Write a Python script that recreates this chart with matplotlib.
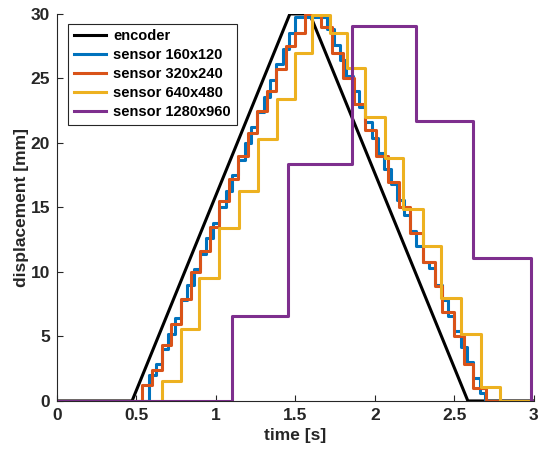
import numpy as np
import matplotlib.pyplot as plt

plt.rcParams['font.family'] = ['Liberation Sans', 'DejaVu Sans']
plt.rcParams['font.weight'] = 'bold'

# encoder (reference)
enc_t = [0, 0.472, 1.465, 1.59, 2.585, 3.0]
enc_d = [0, 0, 30, 30, 0, 0]

# sensor 160x120 - step start times and held values
blue_t = [0, 0.58, 0.62, 0.66, 0.70, 0.74, 0.78, 0.82, 0.86, 0.90, 0.94, 0.98, 1.02,
          1.06, 1.10, 1.14, 1.18, 1.22, 1.26, 1.30, 1.34, 1.38, 1.42, 1.46, 1.50,
          1.70, 1.74, 1.78, 1.82, 1.86, 1.90, 1.94, 1.98, 2.02, 2.06, 2.10, 2.14,
          2.18, 2.22, 2.26, 2.30, 2.34, 2.38, 2.42, 2.46, 2.50, 2.54, 2.58, 2.62,
          2.66, 2.69]
blue_d = [0, 2.0, 2.9, 4.0, 5.2, 6.4, 7.8, 9.0, 10.2, 11.4, 12.6, 13.8, 15.0,
          16.3, 17.5, 18.7, 20.0, 21.2, 22.4, 23.6, 24.9, 26.1, 27.3, 28.5, 29.8,
          28.8, 27.6, 26.4, 25.2, 24.0, 22.8, 21.6, 20.4, 19.2, 18.0, 16.8, 15.6,
          14.4, 13.2, 12.0, 10.8, 10.3, 9.0, 7.8, 6.6, 5.4, 4.2, 3.0, 1.8,
          0.6, 0]

# sensor 320x240
red_t = [0, 0.537, 0.60, 0.66, 0.72, 0.78, 0.84, 0.90, 0.96, 1.02, 1.08, 1.14, 1.20,
         1.26, 1.32, 1.38, 1.44, 1.50, 1.56, 1.66, 1.73, 1.80, 1.87, 1.94, 2.01,
         2.08, 2.15, 2.22, 2.30, 2.38, 2.42, 2.50, 2.56, 2.62, 2.70]
red_d = [0, 1.2, 2.4, 4.3, 6.0, 7.9, 10.0, 11.6, 13.5, 15.5, 17.2, 19.0, 20.8,
         22.5, 24.0, 25.7, 27.5, 28.5, 30.0, 29.0, 27.0, 25.0, 23.0, 21.0, 19.0,
         17.0, 15.0, 13.0, 10.8, 8.9, 6.9, 5.0, 2.9, 1.0, 0]

# sensor 640x480
yel_t = [0, 0.659, 0.780, 0.895, 1.019, 1.145, 1.264, 1.384, 1.497, 1.604, 1.717,
         1.824, 1.937, 2.063, 2.176, 2.302, 2.415, 2.541, 2.667, 2.786]
yel_d = [0, 1.55, 5.6, 9.56, 13.4, 16.3, 20.3, 23.4, 27.0, 29.9, 28.5,
         25.8, 22.0, 18.8, 14.9, 12.0, 8.0, 5.2, 1.1, 0]

# sensor 1280x960
pur_t = [0, 1.098, 1.455, 1.853, 2.258, 2.618, 2.98]
pur_d = [0, 6.6, 18.4, 29.1, 21.7, 11.06, 0]

fig = plt.figure(figsize=(5.4, 4.5), dpi=100)
ax = fig.add_axes([0.1056, 0.109, 0.883, 0.86])

lw = 2.2
ax.plot(enc_t, enc_d, color='black', lw=lw, label='encoder')
series = [
    (blue_t, blue_d, '#0072BD', 'sensor 160x120'),
    (red_t, red_d, '#D95319', 'sensor 320x240'),
    (yel_t, yel_d, '#EDB120', 'sensor 640x480'),
    (pur_t, pur_d, '#7E2F8E', 'sensor 1280x960'),
]
for t, d, c, name in series:
    t = list(t) + [3.0]
    d = list(d) + [d[-1]]
    ax.step(t, d, where='post', color=c, lw=lw, label=name)

ax.set_xlim(0, 3)
ax.set_ylim(0, 30)
ax.set_xticks([0, 0.5, 1, 1.5, 2, 2.5, 3])
ax.set_xticklabels(['0', '0.5', '1', '1.5', '2', '2.5', '3'])
ax.set_yticks([0, 5, 10, 15, 20, 25, 30])
for s in ['top', 'right']:
    ax.spines[s].set_visible(False)
for s in ['left', 'bottom']:
    ax.spines[s].set_color('#262626')
    ax.spines[s].set_linewidth(0.8)
ax.tick_params(direction='in', length=4, colors='#262626', labelsize=12.5, width=0.8, pad=5)
for lab in ax.get_xticklabels() + ax.get_yticklabels():
    lab.set_fontweight('bold')
ax.set_xlabel('time [s]', fontsize=12.5, fontweight='bold', color='#262626', labelpad=4)
ax.set_ylabel('displacement [mm]', fontsize=12.5, fontweight='bold', color='#262626', labelpad=1)

leg = ax.legend(loc='upper left', bbox_to_anchor=(0.023, 0.975), borderaxespad=0,
                fontsize=10.5, frameon=True, fancybox=False, edgecolor='#262626',
                framealpha=1, handlelength=2.2, handletextpad=0.5, borderpad=0.4,
                labelspacing=0.33)
leg.get_frame().set_linewidth(0.8)
for txt in leg.get_texts():
    txt.set_fontweight('bold')

fig.savefig('out.png', dpi=100)
